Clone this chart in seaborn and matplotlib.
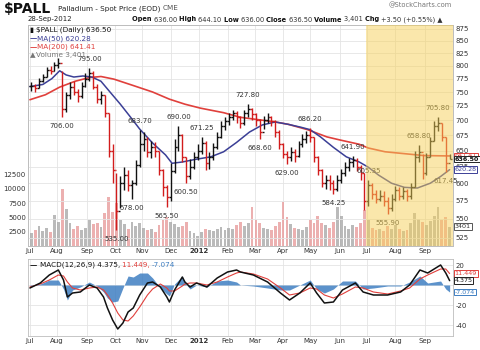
import matplotlib
matplotlib.use("Agg")
import matplotlib.pyplot as plt
import matplotlib.transforms as mtransforms
from matplotlib.ticker import NullLocator
import numpy as np
import seaborn as sns

W, H = 480, 350

# ---- price bars: one bar every third session (index = trading day since 1-Jul-2011)
bar_idx = list(range(1, 326, 3))
close = [762, 758, 770, 778, 792, 790, 802, 806, 720, 745,
         760, 750, 742, 762, 775, 785, 760, 738, 745, 712,
         650, 620, 560, 600, 612, 598, 600, 628, 660, 668,
         648, 655, 650, 620, 595, 580, 618, 655, 675, 640,
         610, 625, 640, 650, 662, 630, 640, 655, 672, 690,
         698, 705, 712, 705, 695, 712, 720, 710, 700, 680,
         700, 706, 698, 680, 660, 645, 640, 648, 642, 660,
         668, 675, 672, 640, 620, 600, 605, 600, 592, 605,
         615, 625, 632, 635, 625, 615, 575, 598, 585, 578,
         582, 575, 565, 578, 590, 582, 588, 582, 595, 640,
         648, 615, 640, 665, 690, 695, 672, 630, 636.5]
high = [768, 765, 776, 784, 797, 800, 808, 815, 790, 750,
        768, 770, 756, 768, 785, 795, 790, 765, 752, 745,
        712, 660, 615, 610, 625, 620, 605, 635, 683.7, 680,
        672, 665, 664, 650, 622, 598, 630, 668, 690, 676,
        640, 636, 648, 660, 671.25, 665, 648, 662, 680, 698,
        706, 712, 718, 716, 708, 718, 727.8, 722, 712, 702,
        708, 712, 708, 700, 684, 662, 650, 655, 652, 666,
        676, 682, 686.2, 672, 642, 622, 612, 612, 605, 612,
        622, 632, 638, 641.9, 638, 628, 615, 605.35, 600, 590,
        590, 588, 580, 585, 596, 594, 595, 592, 600, 650,
        658.8, 645, 646, 672, 698, 705.8, 696, 672, 644.1]
low = [752, 750, 757, 768, 778, 783, 789, 795, 706, 715,
       738, 744, 732, 740, 760, 770, 755, 730, 728, 705,
       640, 600, 535, 565, 590, 588, 578, 598, 625, 650,
       640, 638, 640, 612, 582, 565.5, 575, 615, 650, 632,
       600.5, 606, 622, 635, 645, 620, 622, 635, 652, 670,
       684, 692, 700, 696, 686, 692, 706, 700, 690, 668.6,
       685, 695, 690, 672, 652, 638, 629, 634, 632, 640,
       656, 662, 664, 632, 612, 595, 592, 590, 584.25, 588,
       600, 610, 618, 624, 618, 605, 562, 568, 578, 572,
       574, 568, 555.9, 560, 575, 576, 578, 575, 578, 595,
       632, 606, 612, 640, 665, 682, 665, 617.45, 636.0]
volume = [2200, 2800, 3500, 2600, 3200, 2400, 5500, 4200, 10000, 6500,
          4000, 3000, 3500, 2800, 3200, 4500, 3800, 4000, 3300, 5800,
          8500, 6000, 7500, 4500, 3800, 3000, 4200, 3500, 4000, 3200,
          2800, 3000, 2500, 3600, 4500, 5000, 4200, 3800, 3300, 3500,
          4200, 2600, 2200, 1800, 2400, 3000, 2800, 2600, 3000, 3400,
          2800, 3200, 3000, 3600, 4200, 3500, 4000, 6800, 4500, 4000,
          3200, 3000, 2800, 3500, 4200, 7700, 5000, 3800, 3200, 3000,
          2800, 3400, 4500, 4000, 5200, 4000, 3600, 3200, 4200, 6800,
          5200, 3500, 3000, 3600, 3300, 4000, 6300, 4500, 3200, 2800,
          3000, 2600, 3500, 3000, 3600, 3000, 2600, 2800, 4000, 5800,
          4800, 4200, 3600, 4400, 5200, 6800, 4600, 5000, 3401]

# ---- moving averages
ma50_idx = [0, 10, 17, 23, 28, 34, 41, 48, 55, 62, 70, 78, 85, 95, 105, 110, 118, 128,
            140, 150, 160, 170, 180, 190, 200, 210, 217, 225, 235, 245, 255, 262, 270,
            280, 290, 300, 310, 318, 325]
ma50 = [760, 764, 775, 790, 782, 778, 780, 778, 770, 750, 728, 705, 685, 662, 643, 630,
        632, 636, 640, 648, 663, 680, 692, 697, 693, 688, 684, 672, 655, 640, 632, 624,
        612, 600, 594, 593, 600, 610, 620.28]
ma200_idx = [0, 12, 23, 35, 46, 55, 65, 80, 95, 108, 120, 132, 150, 163, 180, 190, 200,
             215, 230, 240, 255, 262, 275, 290, 305, 325]
ma200 = [736, 745, 759, 770, 777, 779, 774, 762, 750, 737, 728, 721, 713, 705, 700, 697,
         693, 684, 672, 667, 660, 654, 648, 645, 642, 641.41]

# ---- MACD(12,26,9)
macd_idx = [0, 8, 15, 22, 26, 29, 33, 39, 46, 52, 57, 60, 64, 68, 72, 76, 80, 85, 91, 95,
            101, 106, 108, 112, 118, 120, 124, 129, 137, 145, 153, 160, 163, 173, 184, 194,
            201, 209, 217, 222, 228, 235, 242, 252, 258, 266, 277, 287, 294, 302, 308, 318,
            322, 325]
macd = [-3, 2, 10, 15, 5, -12, -8, -7, 0, -3, -12, -23, -35, -44, -38, -27, -23, -10, 2, 3,
        -2, -12, -17, -5, 8, 3, -2, 2, -2, 7, 13, 15, 13, 10, 3, -8, -15, -8, 2, -8,
        -18, -17, -5, 2, -7, -10, -10, -7, 0, 15, 12, 20, 12, 4.375]
signal = [-2, 1, 5, 10, 9, 3, -3, -5, -3, -2, -5, -10, -18, -28, -35, -36, -31, -22, -10, -4,
          1, -3, -6, -6, -1, 1, 2, 2, 0, 3, 8, 12, 13, 11, 6, -3, -10, -8, -3, -4,
          -10, -13, -9, -2, -3, -7, -9, -6, -3, 6, 10, 16, 16, 11.449]

# ---- peak / trough annotations (bar position, which extreme)
note_idx = [46, 25, 67, 79, 85, 106, 115, 121, 133, 169, 178, 199, 217, 235, 250, 262,
            277, 301, 316, 322]
note_side = ["hi", "lo", "lo", "lo", "hi", "lo", "hi", "lo", "hi", "hi", "lo", "lo", "hi",
             "lo", "hi", "hi", "lo", "hi", "hi", "lo"]

month_idx = [0, 21, 44, 66, 87, 109, 131, 153, 174, 196, 217, 240, 261, 283, 306]
month_lbl = ["Jul", "Aug", "Sep", "Oct", "Nov", "Dec", "2012", "Feb", "Mar", "Apr", "May",
             "Jun", "Jul", "Aug", "Sep"]
price_ticks = [525, 550, 575, 600, 625, 650, 675, 700, 725, 750, 775, 800, 825, 850, 875]
vol_ticks = [2500, 5000, 7500, 10000, 12500]
macd_ticks = [20, 0, -20, -40]
highlight_start = 261  # first session of Jul 2012

sns.set_theme(style="white")
plt.rcParams["font.family"] = ["DejaVu Sans"]

TXT = "#333333"
GRID = "#e4e4e4"
SPINE = "#bdbdbd"

fig = plt.figure(figsize=(W / 100, H / 100), dpi=100)
fig.patch.set_facecolor("white")


def px_rect(left, top, right, bottom):
    return [left / W, 1 - bottom / H, (right - left) / W, (bottom - top) / H]


ax_vol = fig.add_axes(px_rect(28, 25, 453, 246))
ax = ax_vol.twinx()
ax_m = fig.add_axes(px_rect(28, 259, 453, 336), sharex=ax_vol)

n = len(bar_idx)
up = [True] + [close[k] >= close[k - 1] for k in range(1, n)]
bx = np.array(bar_idx, dtype=float)

# volume
vol_colors = ["#a9a9a9" if u else "#e89c9c" for u in up]
ax_vol.bar(bx, volume, width=2.2, color=vol_colors, alpha=0.8, linewidth=0)
ax_vol.set_ylim(0, 38600)
ax_vol.set_yticks(vol_ticks)
ax_vol.set_yticklabels([str(v) for v in vol_ticks])
ax_vol.set_xlim(-1.5, 327.6)

# price bars (open tick = previous close)
bar_col = ["#111111" if u else "#d21c1c" for u in up]
opens = [close[0]] + close[:-1]
ax.set_yscale("log")
ax.vlines(bx, low, high, colors=bar_col, lw=1.0, zorder=4)
ax.hlines(opens, bx - 1.5, bx, colors=bar_col, lw=1.0, zorder=4)
ax.hlines(close, bx, bx + 1.5, colors=bar_col, lw=1.0, zorder=4)

sns.lineplot(x=ma200_idx, y=ma200, ax=ax, color="#e0403c", lw=1.2, zorder=3)
sns.lineplot(x=ma50_idx, y=ma50, ax=ax, color="#3b3f96", lw=1.1, zorder=3)

ax.set_ylim(514.6, 883.6)
ax.set_yticks(price_ticks)
ax.set_yticklabels([str(t) for t in price_ticks])
ax.yaxis.set_minor_locator(NullLocator())
ax.grid(True, axis="y", color=GRID, lw=0.6)
ax_vol.grid(True, axis="x", color=GRID, lw=0.6)
ax.set_axisbelow(True)
ax_vol.set_axisbelow(True)

for k, side in zip(note_idx, note_side):
    j = bar_idx.index(k)
    val = high[j] if side == "hi" else low[j]
    ax.annotate(f"{val:.2f}", (k, val), xytext=(0, 6.5 if side == "hi" else -6.5),
                textcoords="offset points", ha="center", va="center",
                fontsize=5, color=TXT, zorder=6)

# current-quarter highlight drawn over the panel
ax.axvspan(highlight_start - 0.5, 327.6, color="#f6d158", alpha=0.5, lw=0, zorder=10)

# right-edge value boxes
tr_price = mtransforms.blended_transform_factory(ax.transAxes, ax.transData)
tr_vol = mtransforms.blended_transform_factory(ax.transAxes, ax_vol.transData)


def value_box(axis, trans, y, text, edge, color, bold=False):
    axis.text(1.004, y, text, transform=trans, ha="left", va="center", fontsize=4.6,
              color=color, fontweight="bold" if bold else "normal",
              bbox=dict(boxstyle="square,pad=0.12", fc="white", ec=edge, lw=0.7),
              zorder=30, clip_on=False)


value_box(ax, tr_price, ma200[-1], f"{ma200[-1]:.2f}", "#e0403c", "#e0403c")
value_box(ax, tr_price, close[-1], f"{close[-1]:.2f}", "#222222", "#111111", bold=True)
value_box(ax, tr_price, ma50[-1], f"{ma50[-1]:.2f}", "#3b3f96", "#3b3f96")
value_box(ax, tr_vol, volume[-1], f"{volume[-1]}", "#555555", "#333333")

# MACD panel
hist = np.array(macd) - np.array(signal)
ax_m.fill_between(macd_idx, hist, 0, color="#3f7fc2", alpha=0.85, lw=0)
sns.lineplot(x=macd_idx, y=signal, ax=ax_m, color="#e0403c", lw=0.8)
sns.lineplot(x=macd_idx, y=macd, ax=ax_m, color="#111111", lw=1.1)
ax_m.set_ylim(-51, 26)
ax_m.yaxis.tick_right()
ax_m.set_yticks(macd_ticks)
ax_m.set_yticklabels([str(t) if t != 0 else "" for t in macd_ticks])
ax_m.grid(True, axis="both", color=GRID, lw=0.6)
ax_m.set_axisbelow(True)
tr_m = mtransforms.blended_transform_factory(ax_m.transAxes, ax_m.transData)
value_box(ax_m, tr_m, signal[-1], f"{signal[-1]:.3f}", "#e0403c", "#e0403c")
value_box(ax_m, tr_m, macd[-1], f"{macd[-1]:.3f}", "#222222", "#111111")
value_box(ax_m, tr_m, hist[-1], f"{hist[-1]:.3f}", "#3f7fc2", "#3f7fc2")

ax_vol.set_xticks(month_idx)
ax_vol.set_xticklabels(month_lbl)

for a in (ax_vol, ax, ax_m):
    a.tick_params(axis="both", length=0, labelsize=5, colors=TXT, pad=1.5)
    for s in a.spines.values():
        s.set_color(SPINE)
        s.set_linewidth(0.6)
for a in (ax_vol, ax_m):
    for lbl in a.get_xticklabels():
        if lbl.get_text() == "2012":
            lbl.set_fontweight("bold")
ax_m.tick_params(axis="y", labelsize=5, pad=2)
ax.tick_params(axis="y", pad=2)
for a in (ax_vol, ax, ax_m):
    a.set_xlabel("")
    a.set_ylabel("")

renderer = fig.canvas.get_renderer()


def run_text(x_px, y_px, parts, size):
    x = x_px
    for s, weight, color in parts:
        t = fig.text(x / W, 1 - y_px / H, s, fontsize=size, fontweight=weight,
                     color=color, ha="left", va="center")
        x += t.get_window_extent(renderer=renderer).width
    return x


# header
run_text(4, 9, [("$PALL", "bold", "#111111")], 10)
run_text(58, 8.5, [("Palladium - Spot Price (EOD) ", "normal", "#222222"),
                   ("CME", "normal", "#555555")], 5.2)
fig.text(452 / W, 1 - 5 / H, "@StockCharts.com", fontsize=4.8, color="#777777",
         ha="right", va="center")
run_text(28, 19.5, [("28-Sep-2012", "normal", "#222222")], 5.0)
run_text(132, 19.5, [("Open ", "bold", "#111111"), ("636.00 ", "normal", "#333333"),
                     ("High ", "bold", "#111111"), ("644.10 ", "normal", "#333333"),
                     ("Low ", "bold", "#111111"), ("636.00 ", "normal", "#333333"),
                     ("Close ", "bold", "#111111"), ("636.50 ", "normal", "#333333"),
                     ("Volume ", "bold", "#111111"), ("3,401 ", "normal", "#333333"),
                     ("Chg ", "bold", "#111111"), ("+3.50 (+0.55%) \u25b2", "normal", "#333333")],
         4.75)

# price panel legend
run_text(30, 30, [("\u25ae ", "normal", "#111111"),
                  ("$PALL (Daily) 636.50", "normal", "#111111")], 5.2)
run_text(30, 38.5, [("\u2014", "bold", "#3b3f96"), ("MA(50) 620.28", "normal", "#3b3f96")], 5.2)
run_text(30, 47, [("\u2014", "bold", "#e0403c"), ("MA(200) 641.41", "normal", "#e0403c")], 5.2)
run_text(30, 55.5, [("\u25b2", "normal", "#777777"), ("Volume 3,401", "normal", "#777777")], 5.2)

# MACD legend
run_text(30, 265, [("\u2014 ", "bold", "#111111"), ("MACD(12,26,9) 4.375, ", "normal", "#111111"),
                   ("11.449, ", "normal", "#e0403c"), ("-7.074", "normal", "#3f7fc2")], 5.2)

fig.savefig("out.png", dpi=100)
